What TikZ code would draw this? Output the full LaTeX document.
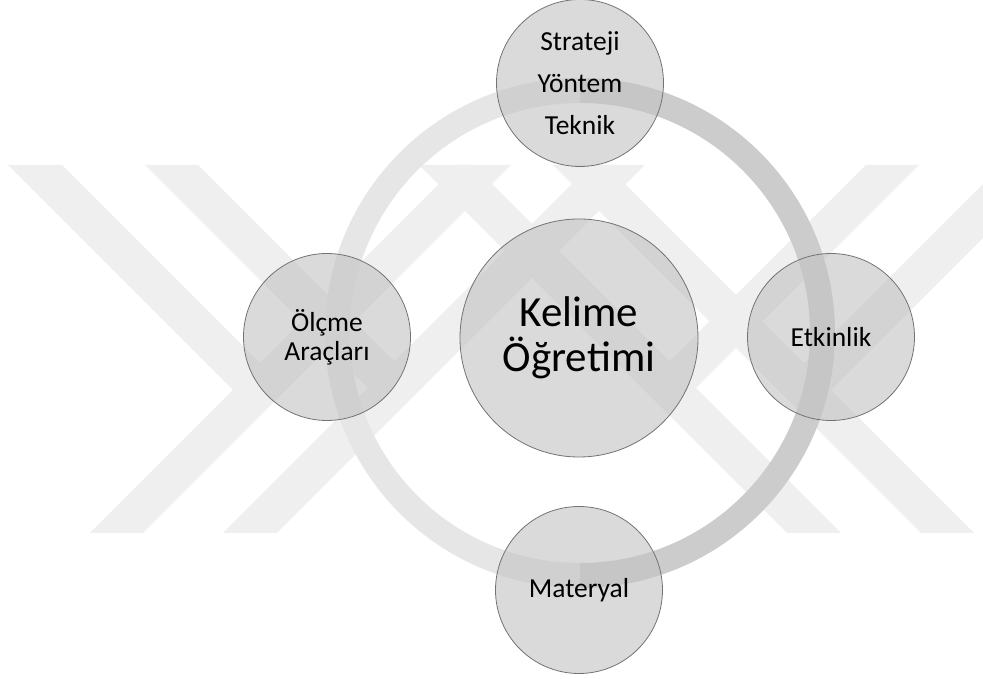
\documentclass[tikz,border=0pt]{standalone}
\usepackage{fontspec}
\setmainfont{Carlito}
\definecolor{bandgray}{HTML}{EFEFEF}
\definecolor{ringlight}{HTML}{E6E6E6}
\definecolor{ringdark}{HTML}{CCCCCC}
\tikzstyle{bubble}=[circle,draw=black!55,line width=0.8pt,fill=black!23,fill opacity=0.63,text opacity=1,minimum size=167pt,inner sep=0pt,align=center,font=\fontsize{27.5}{29}\selectfont]
\tikzstyle{hub}=[bubble,minimum size=238pt,font=\fontsize{43}{45}\selectfont]
\tikzstyle{band}=[fill=bandgray]
\tikzstyle{ring}=[line width=25pt]

\begin{document}
\begin{tikzpicture}[x=1pt,y=1pt]
    \useasboundingbox (0,0) rectangle (983,679);
    \clip (0,0) rectangle (983,679);
    % Background: the slanted bands first
    \foreach \a/\b/\c/\d in {{(90,146)/(143,146)/(511,514)/(458,514)}, {(223,146)/(277,146)/(645,514)/(591,514)},
        {(8,514)/(62,514)/(286.5,289.5)/(233,289)}, {(145,514)/(198,514)/(421.5,290.5)/(368,291)},
        {(974,146)/(921,146)/(553,514)/(606,514)}, {(841,146)/(787,146)/(419,514)/(473,514)},
        {(1056,514)/(1002,514)/(777.5,289.5)/(831,289)}, {(919,514)/(866,514)/(642.5,290.5)/(696,291)}}
        \fill[band] \a -- \b -- \c -- \d -- cycle;
    % then the big ring, light on the left and dark on the right
    \draw[ring,ringlight] (580,103.5) arc[start angle=-90,end angle=-270,radius=242.5];
    \draw[ring,ringdark] (580,103.5) arc[start angle=-90,end angle=90,radius=242.5];
    % Now the circles
    \node[hub] (kelime) at (579,341) {Kelime\\Öğretimi};
    \foreach \pos/\name/\txt in {{(580,596)/strateji/{Strateji\\[13pt]Yöntem\\[13pt]Teknik}}, {(831,342)/etkinlik/Etkinlik},
        {(579,89)/materyal/Materyal}, {(327,342)/olcme/{Ölçme\\Araçları}}}
        \node[bubble] (\name) at \pos {\txt};
\end{tikzpicture}
\end{document}
